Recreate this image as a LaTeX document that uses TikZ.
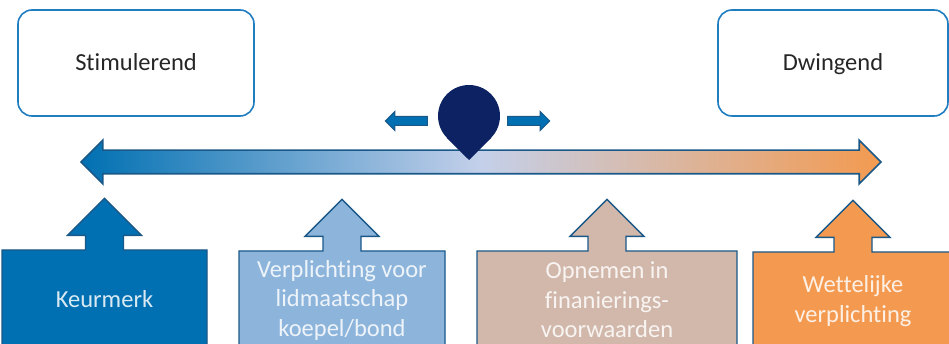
\documentclass[tikz,border=0pt]{standalone}
\usepackage{fontspec}
\setmainfont{Carlito}[Ligatures=NoCommon]
\usetikzlibrary{positioning,shapes.arrows}

\definecolor{kaderblauw}{HTML}{1F7DC0}
\definecolor{randblauw}{HTML}{1A5888}
\definecolor{keurblauw}{HTML}{0070B2}
\definecolor{lichtblauw}{HTML}{8DB5DC}
\definecolor{zandkleur}{HTML}{D2B8AB}
\definecolor{oranje}{HTML}{F39A50}
\definecolor{middenblauw}{HTML}{C4D0EA}
\definecolor{pinblauw}{HTML}{0C2262}

\tikzset{
  kader/.style={draw=kaderblauw, line width=1.6pt, rounded corners=14pt, fill=white,
    minimum height=106pt, inner sep=0pt, text=black!85,
    text height=16pt, text depth=0pt,
    font=\fontsize{24.5}{29}\selectfont},
  opvak/.style={arrow box, draw=randblauw, line width=1.4pt, minimum height=98pt,
    arrow box arrows={north:51pt}, arrow box shaft width=38pt,
    arrow box head extend=18pt, arrow box head indent=0pt, arrow box tip angle=90,
    align=center, inner sep=0pt, text=white, text opacity=0.85,
    font=\fontsize{24.5}{29.5}\selectfont},
  pijltje/.style={single arrow, fill=keurblauw, draw=randblauw, line width=1pt,
    minimum height=42pt, inner sep=4pt, single arrow head extend=5pt}
}

\begin{document}
\begin{tikzpicture}[x=1pt, y=-1pt]
        \useasboundingbox (0,0) rectangle (949,344);
        \clip (0,0) rectangle (949,344);

        % 上面两个框
        \node[kader, minimum width=236pt] (stim) at (136,63) {Stimulerend};
        \node[kader, minimum width=230pt] (dwing) at (833,63) {Dwingend};

        % 双向箭头
        \node[double arrow, draw=randblauw, line width=1.7pt, minimum height=800pt,
              inner sep=11pt, double arrow head extend=10pt,
              left color=keurblauw, right color=oranje, middle color=middenblauw]
              (as) at (481,162) {};

        % 指针
        \node[circle, fill=pinblauw, minimum size=62pt, inner sep=0pt] (pin) at (469,116) {};
        \coordinate (punt) at (469,160);
        \fill[pinblauw] (pin.-45) -- (punt) -- (pin.-135) -- cycle;
        \node[pijltje, shape border rotate=180, left=10pt of pin, yshift=-5pt] (links) {};
        \node[pijltje, right=7pt of pin, yshift=-5pt] (rechts) {};

        % 下面四个框
        \node[opvak, fill=keurblauw, minimum width=205pt] (keur) at (104.5,299) {Keurmerk};
        \node[opvak, fill=lichtblauw, minimum width=206pt] (lid) at (342,300)
              {Verplichting voor\\lidmaatschap\\koepel/bond};
        \node[opvak, fill=zandkleur, minimum width=260pt] (fin) at (607,300)
              {Opnemen in\\finanierings-\\voorwaarden};
        \node[opvak, fill=oranje, minimum width=200pt] (wet) at (853,301)
              {Wettelijke\\verplichting};
    \end{tikzpicture}
\end{document}
